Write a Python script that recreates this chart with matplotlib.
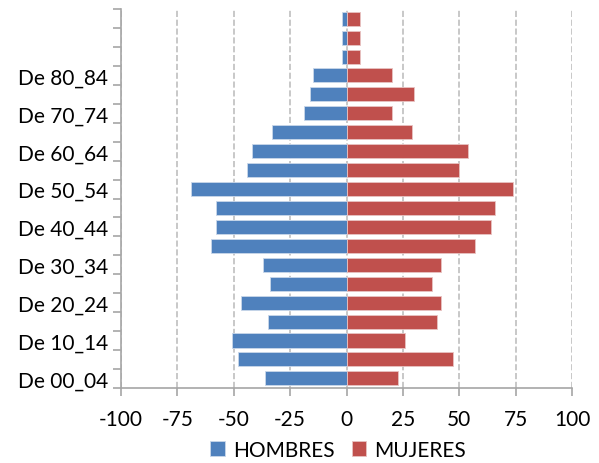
import matplotlib.pyplot as plt
import numpy as np

# grupos de edad (de abajo arriba)
grupos = ['De 00_04', 'De 05_09', 'De 10_14', 'De 15_19', 'De 20_24', 'De 25_29',
          'De 30_34', 'De 35_39', 'De 40_44', 'De 45_49', 'De 50_54', 'De 55_59',
          'De 60_64', 'De 65_69', 'De 70_74', 'De 75_79', 'De 80_84', '', '', '']
hombres = [-36, -48, -51, -35, -47, -34, -37, -60, -58, -58, -69, -44,
           -42, -33, -19, -16, -15, -2, -2, -2]
mujeres = [23, 47, 26, 40, 42, 38, 42, 57, 64, 66, 74, 50,
           54, 29, 20, 30, 20, 6, 6, 6]
x_ticks = [-100, -75, -50, -25, 0, 25, 50, 75, 100]

plt.rcParams['font.family'] = ['Lato', 'DejaVu Sans']

fig = plt.figure(figsize=(5.99, 4.64), dpi=100)
ax = fig.add_axes([0.202, 0.162, 0.753, 0.816])

y = np.arange(len(grupos))
ax.barh(y, hombres, height=0.74, color='#4F81BD', edgecolor='#C9D7EA', linewidth=0.6,
        label='HOMBRES', zorder=3)
ax.barh(y, mujeres, height=0.74, color='#C0504D', edgecolor='#E8C3C2', linewidth=0.6,
        label='MUJERES', zorder=3)

ax.set_xlim(-100, 100)
ax.set_ylim(-0.5, len(grupos) - 0.5)
ax.set_xticks(x_ticks)
ax.set_xticklabels([str(v) for v in x_ticks], fontsize=15)
ax.tick_params(axis='x', length=6, width=1.2, color='#A6A6A6', pad=9)

# etiquetas cada dos grupos, marcas entre categorias
ax.set_yticks(y[::2])
ax.set_yticklabels(grupos[::2], fontsize=15)
ax.tick_params(axis='y', length=0, pad=9)
ax.set_yticks(np.arange(-0.5, len(grupos)), minor=True)
ax.tick_params(axis='y', which='minor', length=6, width=1.2, color='#A6A6A6')

ax.grid(axis='x', linestyle='--', color='#BFBFBF', linewidth=1.2, zorder=0)
for s in ['top', 'right']:
    ax.spines[s].set_visible(False)
for s in ['left', 'bottom']:
    ax.spines[s].set_color('#A6A6A6')
    ax.spines[s].set_linewidth(1.2)

ax.legend(loc='center', bbox_to_anchor=(0.482, -0.164), ncol=2, frameon=False,
          fontsize=15, handlelength=0.7, handleheight=0.7, handletextpad=0.4,
          columnspacing=0.8, borderaxespad=0, borderpad=0)

plt.savefig('out.png', dpi=100)
